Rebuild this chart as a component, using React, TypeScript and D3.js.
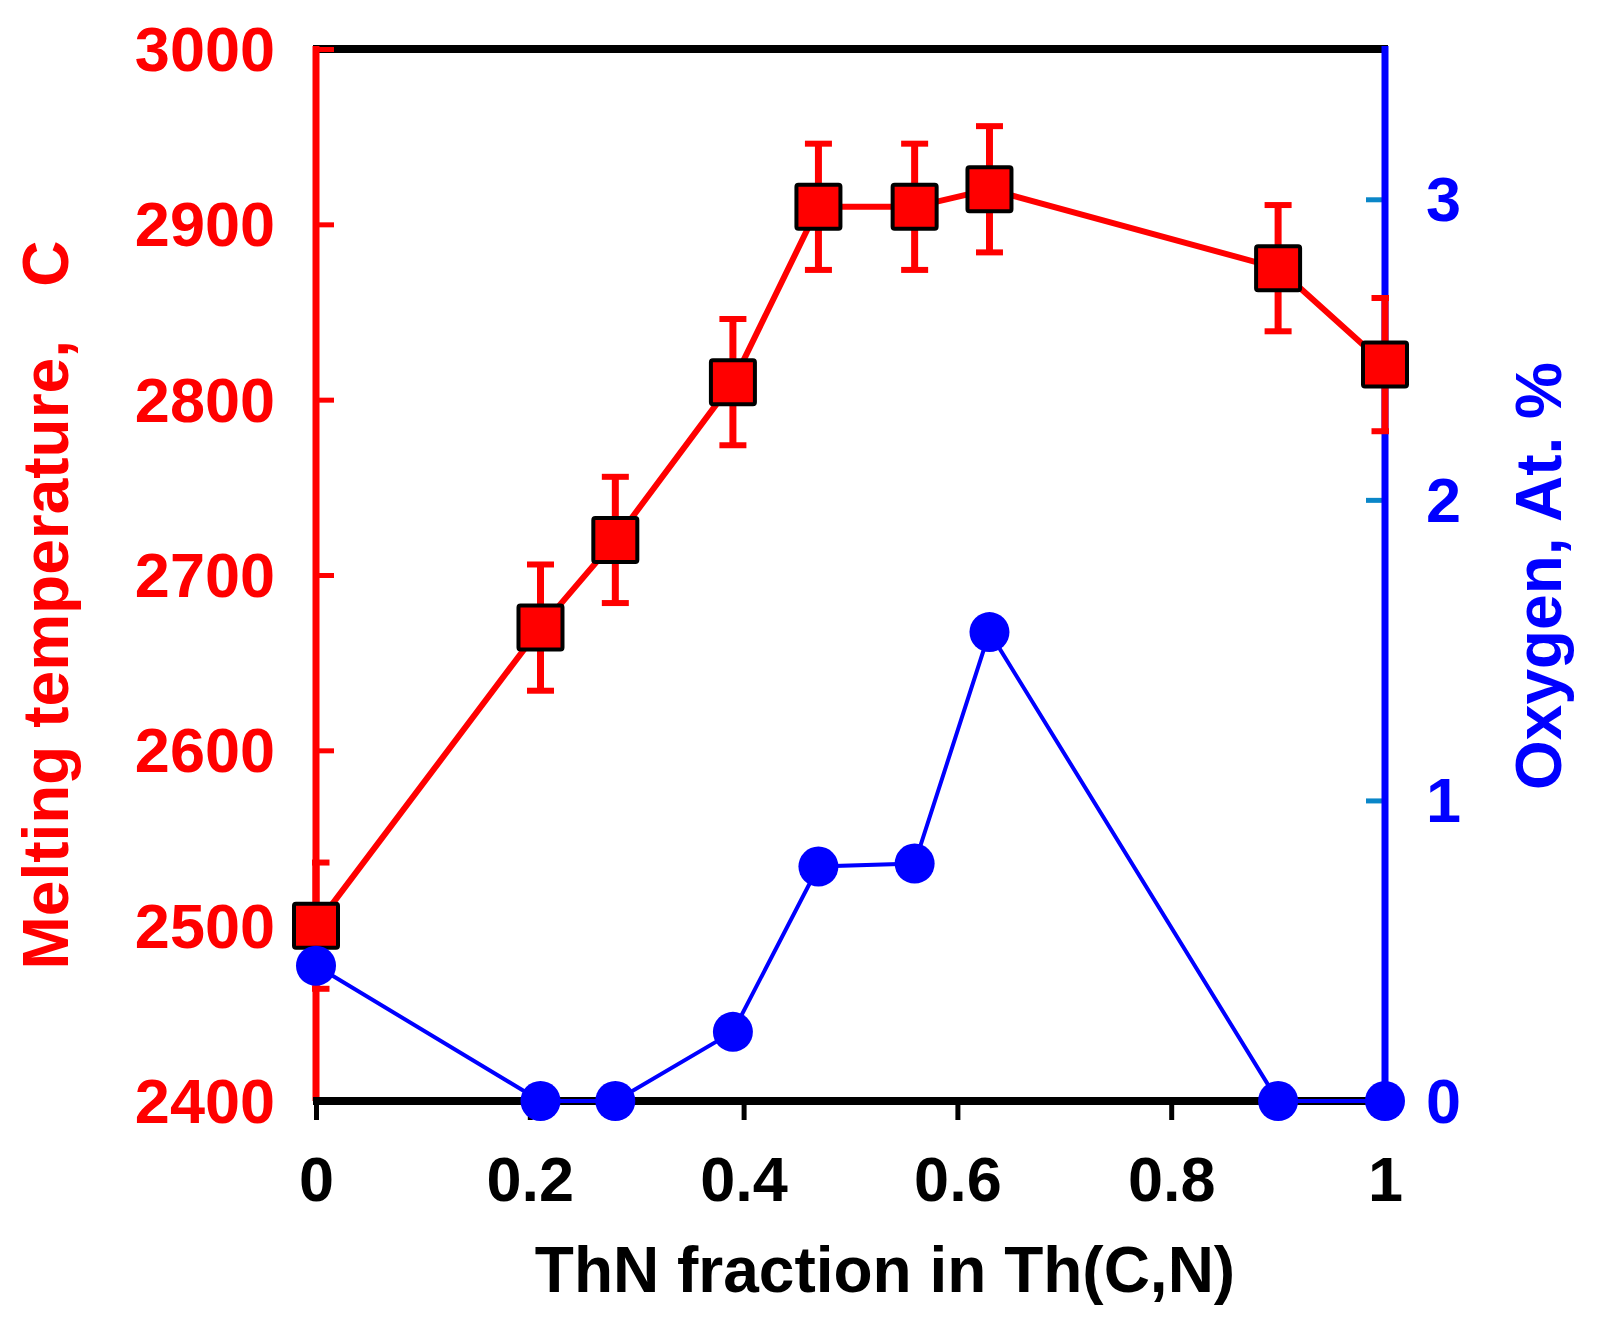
import { useEffect, useRef } from 'react';
import * as d3 from 'd3';

// ThN fraction in Th(C,N)
const fractions = [0, 0.21, 0.28, 0.39, 0.47, 0.56, 0.63, 0.9, 1.0];
// melting temperature, C (red squares) and its error
const meltTemp = [2500, 2670, 2720, 2810, 2910, 2910, 2920, 2875, 2820];
const meltErr = [36, 36, 36, 36, 36, 36, 36, 36, 38];
// oxygen content, at. % (blue circles)
const oxygen = [0.45, 0, 0, 0.23, 0.78, 0.79, 1.56, 0, 0];

const xTicks = [0, 0.2, 0.4, 0.6, 0.8, 1];
const tempTicks = [2400, 2500, 2600, 2700, 2800, 2900, 3000];
const oxyTicks = [0, 1, 2, 3];

const W = 1600;
const H = 1332;
const FONT = 'Liberation Sans, Arial, sans-serif';

const App = () => {
  const svgRef = useRef<SVGSVGElement>(null);

  useEffect(() => {
    if (!svgRef.current) return;
    const svg = d3.select(svgRef.current);
    svg.selectAll('*').remove();

    const left = 316;
    const right = 1385;
    const top = 49;
    const bottom = 1101;

    const x = d3.scaleLinear().domain([0, 1]).range([left, right]);
    const yT = d3.scaleLinear().domain([2400, 3000]).range([bottom, top]);
    const yO = d3.scaleLinear().domain([0, 3.5]).range([bottom, top]);
    const plain = (d: d3.NumberValue) => String(d);

    // clip for error bars (they get cut at the frame)
    svg.append('defs').append('clipPath').attr('id', 'plotClip')
      .append('rect')
      .attr('x', left - 4).attr('y', 0)
      .attr('width', right - left + 8).attr('height', H);

    // top frame line
    svg.append('line')
      .attr('x1', left - 3).attr('x2', right + 3)
      .attr('y1', top).attr('y2', top)
      .attr('stroke', '#000').attr('stroke-width', 8);

    // left axis (red, ticks inward)
    const leftAxis = svg.append('g')
      .attr('transform', `translate(${left},0)`)
      .call(d3.axisLeft(yT).tickValues(tempTicks).tickFormat(plain).tickSizeInner(-18).tickSizeOuter(0).tickPadding(41));
    leftAxis.select('.domain').remove();
    leftAxis.selectAll('.tick line').attr('stroke', '#ff0000').attr('stroke-width', 5);
    leftAxis.selectAll('.tick text')
      .attr('fill', '#ff0000').attr('font-size', 63).attr('font-weight', 'bold')
      .attr('font-family', FONT).attr('dy', '0.34em');
    svg.append('line')
      .attr('x1', left).attr('x2', left)
      .attr('y1', top - 3).attr('y2', bottom)
      .attr('stroke', '#ff0000').attr('stroke-width', 7);

    // right axis (blue, teal ticks inward)
    const rightAxis = svg.append('g')
      .attr('transform', `translate(${right},0)`)
      .call(d3.axisRight(yO).tickValues(oxyTicks).tickFormat(plain).tickSizeInner(-19).tickSizeOuter(0).tickPadding(41));
    rightAxis.select('.domain').remove();
    rightAxis.selectAll('.tick line').attr('stroke', '#0a86c8').attr('stroke-width', 5);
    rightAxis.selectAll('.tick text')
      .attr('fill', '#0000ff').attr('font-size', 63).attr('font-weight', 'bold')
      .attr('font-family', FONT).attr('dy', '0.34em');
    svg.append('line')
      .attr('x1', right).attr('x2', right)
      .attr('y1', top - 3).attr('y2', bottom)
      .attr('stroke', '#0000ff').attr('stroke-width', 7);

    // bottom axis (black, ticks outward)
    const bottomAxis = svg.append('g')
      .attr('transform', `translate(0,${bottom})`)
      .call(d3.axisBottom(x).tickValues(xTicks).tickFormat(plain).tickSizeInner(19).tickSizeOuter(0).tickPadding(36));
    bottomAxis.select('.domain').remove();
    bottomAxis.selectAll('.tick line').attr('stroke', '#000').attr('stroke-width', 5);
    bottomAxis.selectAll('.tick text')
      .attr('fill', '#000').attr('font-size', 63).attr('font-weight', 'bold')
      .attr('font-family', FONT);
    svg.append('line')
      .attr('x1', left - 3).attr('x2', right + 3)
      .attr('y1', bottom).attr('y2', bottom)
      .attr('stroke', '#000').attr('stroke-width', 8);

    // axis titles
    svg.append('text')
      .attr('transform', `translate(68,605) rotate(-90)`)
      .attr('text-anchor', 'middle')
      .attr('fill', '#ff0000').attr('font-size', 64).attr('font-weight', 'bold')
      .attr('font-family', FONT)
      .style('white-space', 'pre')
      .text('Melting temperature,   C');

    svg.append('text')
      .attr('transform', `translate(1561,576) rotate(-90)`)
      .attr('text-anchor', 'middle')
      .attr('fill', '#0000ff').attr('font-size', 64).attr('font-weight', 'bold')
      .attr('font-family', FONT)
      .text('Oxygen, At. %');

    svg.append('text')
      .attr('x', 885).attr('y', 1292)
      .attr('text-anchor', 'middle')
      .attr('fill', '#000').attr('font-size', 64).attr('font-weight', 'bold')
      .attr('font-family', FONT)
      .text('ThN fraction in Th(C,N)');

    const idx = d3.range(fractions.length);

    // red temperature line
    const tLine = d3.line<number>().x(i => x(fractions[i])).y(i => yT(meltTemp[i]));
    svg.append('path')
      .attr('d', tLine(idx))
      .attr('fill', 'none').attr('stroke', '#ff0000').attr('stroke-width', 6);

    // error bars
    const eb = svg.append('g').attr('clip-path', 'url(#plotClip)');
    const capW = 27;
    idx.forEach(i => {
      const cx = x(fractions[i]);
      const y1 = yT(meltTemp[i] + meltErr[i]);
      const y2 = yT(meltTemp[i] - meltErr[i]);
      eb.append('line').attr('x1', cx).attr('x2', cx).attr('y1', y1).attr('y2', y2)
        .attr('stroke', '#ff0000').attr('stroke-width', 7);
      [y1, y2].forEach(yy => {
        eb.append('line').attr('x1', cx - capW / 2).attr('x2', cx + capW / 2)
          .attr('y1', yy).attr('y2', yy)
          .attr('stroke', '#ff0000').attr('stroke-width', 6);
      });
    });

    // squares
    const sq = 44;
    svg.append('g').selectAll('rect')
      .data(idx)
      .enter()
      .append('rect')
      .attr('x', i => x(fractions[i]) - sq / 2)
      .attr('y', i => yT(meltTemp[i]) - sq / 2)
      .attr('width', sq).attr('height', sq)
      .attr('rx', 2)
      .attr('fill', '#ff0000').attr('stroke', '#000').attr('stroke-width', 4);

    // blue oxygen line
    const oLine = d3.line<number>().x(i => x(fractions[i])).y(i => yO(oxygen[i]));
    svg.append('path')
      .attr('d', oLine(idx))
      .attr('fill', 'none').attr('stroke', '#0000ff').attr('stroke-width', 4);

    svg.append('g').selectAll('circle')
      .data(idx)
      .enter()
      .append('circle')
      .attr('cx', i => x(fractions[i]))
      .attr('cy', i => yO(oxygen[i]))
      .attr('r', 20)
      .attr('fill', '#0000ff');
  }, []);

  return (
    <div style={{ position: 'absolute', left: 0, top: 0, width: W, height: H, background: '#fff' }}>
      <svg ref={svgRef} width={W} height={H}></svg>
    </div>
  );
};

export default App;
